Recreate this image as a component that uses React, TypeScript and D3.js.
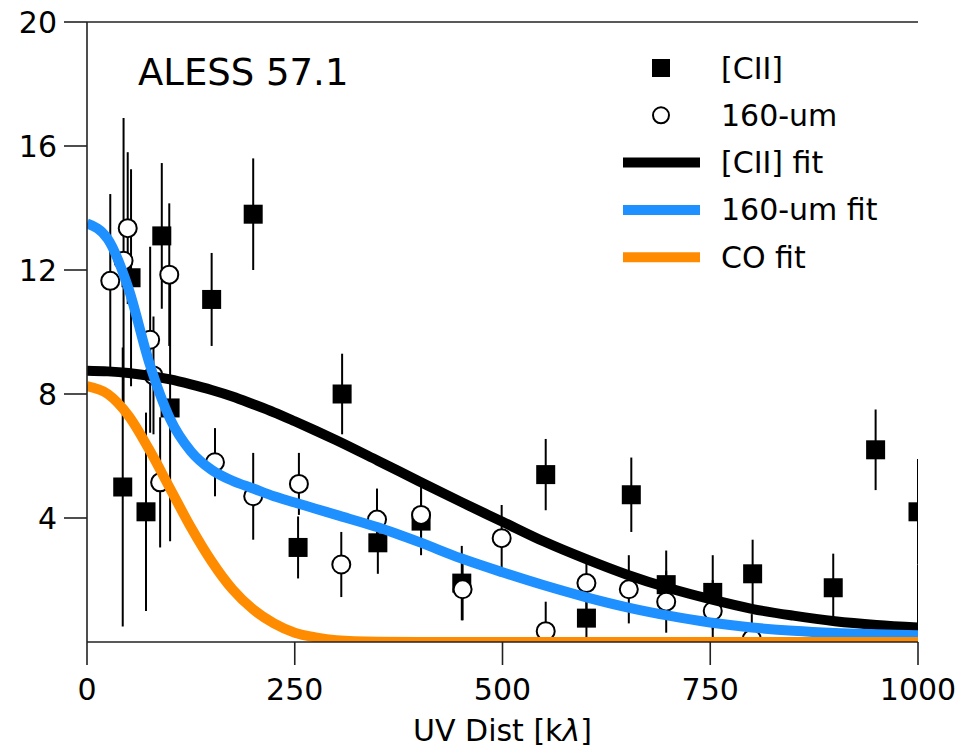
import React from "react";
import * as d3 from "d3";

// [CII] data: uv distance (kλ), amplitude, error
const ciiX = [43, 53, 71, 90, 100, 150, 200, 254, 307, 350, 402, 451, 552, 601, 655, 697, 753, 801, 898, 949, 1000];
const ciiY = [5.0, 11.75, 4.2, 13.1, 7.55, 11.05, 13.8, 3.05, 8.0, 3.2, 3.9, 1.9, 5.4, 0.77, 4.75, 1.85, 1.6, 2.2, 1.75, 6.2, 4.2];
const ciiErr = [4.5, 3.5, 3.2, 2.35, 4.3, 1.5, 1.8, 1.0, 1.3, 1.0, 1.1, 1.2, 1.15, 0.9, 1.2, 1.1, 1.2, 1.1, 1.1, 1.3, 1.7];

// 160-um data
const dustX = [28, 44, 49, 76, 80, 88, 99, 154, 200, 255, 306, 349, 402, 452, 499, 552, 601, 652, 697, 753, 800, 1000];
const dustY = [11.65, 12.3, 13.35, 9.75, 8.6, 5.15, 11.85, 5.8, 4.7, 5.1, 2.5, 3.95, 4.1, 1.7, 3.35, 0.35, 1.9, 1.7, 1.3, 1.0, 0.1, 0.0];
const dustErr = [2.8, 4.6, 2.45, 3.0, 1.9, 2.1, 2.3, 1.1, 1.4, 1.0, 1.05, 1.0, 0.8, 1.0, 1.07, 0.95, 0.9, 1.1, 1.0, 1.0, 0.8, 2.5];

// fit curves
const fitX = [0, 25, 50, 75, 100, 125, 150, 175, 200, 225, 250, 275, 300, 350, 400, 450, 500, 550, 600, 650, 700, 750, 800, 850, 900, 950, 1000];
const ciiFit = [8.75, 8.73, 8.68, 8.59, 8.47, 8.31, 8.13, 7.92, 7.67, 7.41, 7.12, 6.82, 6.51, 5.85, 5.18, 4.52, 3.88, 3.24, 2.68, 2.17, 1.74, 1.38, 1.07, 0.85, 0.67, 0.55, 0.47];
const dustFit = [13.5, 13.0, 11.4, 9.0, 7.2, 6.15, 5.55, 5.2, 4.95, 4.7, 4.5, 4.3, 4.1, 3.7, 3.22, 2.7, 2.25, 1.83, 1.45, 1.12, 0.85, 0.63, 0.47, 0.36, 0.29, 0.25, 0.22];
const coFit = [8.25, 8.0, 7.3, 6.2, 4.95, 3.7, 2.6, 1.7, 1.05, 0.6, 0.3, 0.15, 0.06, 0.01, 0, 0, 0, 0, 0, 0, 0, 0, 0, 0, 0, 0, 0];

const xTicks = [0, 250, 500, 750, 1000];
const yTicks = [4, 8, 12, 16, 20];

const legendLabels = ["[CII]", "160-um", "[CII] fit", "160-um fit", "CO fit"];
const fitColors = ["#000000", "#1e90ff", "#ff8c00"];

export default function App() {
  const W = 965, H = 750;
  const L = 87, R = 918, T = 22, B = 642;
  const x = d3.scaleLinear().domain([0, 1000]).range([L, R]);
  const y = d3.scaleLinear().domain([0, 20]).range([B, T]);
  const font = "DejaVu Sans, sans-serif";

  const line = d3
    .line<[number, number]>()
    .x((d) => x(d[0]))
    .y((d) => y(d[1]))
    .curve(d3.curveMonotoneX);

  const fits = [ciiFit, dustFit, coFit];
  const sq = 19;
  const rc = 9;

  const legRow = (i: number) => 68 + i * 47.3;

  return (
    <svg width={W} height={H} style={{ position: "absolute", left: 0, top: 0, background: "#fff" }} fontFamily={font}>
      <defs>
        <clipPath id="plotclip">
          <rect x={L} y={T} width={R - L} height={B - T} />
        </clipPath>
      </defs>
      <rect x={0} y={0} width={W} height={H} fill="#fff" />
      <g clipPath="url(#plotclip)">
        {/* error bars */}
        {ciiX.map((v, i) => (
          <line key={"ce" + i} x1={x(v)} x2={x(v)} y1={y(ciiY[i] - ciiErr[i])} y2={y(ciiY[i] + ciiErr[i])} stroke="#000" strokeWidth={2} />
        ))}
        {dustX.map((v, i) => (
          <line key={"de" + i} x1={x(v)} x2={x(v)} y1={y(dustY[i] - dustErr[i])} y2={y(dustY[i] + dustErr[i])} stroke="#000" strokeWidth={2} />
        ))}
        {ciiX.map((v, i) => (
          <rect key={"cs" + i} x={x(v) - sq / 2} y={y(ciiY[i]) - sq / 2} width={sq} height={sq} fill="#000" />
        ))}
        {dustX.map((v, i) => (
          <circle key={"dc" + i} cx={x(v)} cy={y(dustY[i])} r={rc} fill="#fff" stroke="#000" strokeWidth={2} />
        ))}
        {fits.map((f, k) => (
          <path
            key={"f" + k}
            d={line(fitX.map((v, i) => [v, f[i]] as [number, number])) || ""}
            fill="none"
            stroke={fitColors[k]}
            strokeWidth={10}
          />
        ))}
      </g>
      {/* frame: left, bottom, top */}
      <line x1={L} x2={L} y1={T} y2={B} stroke="#222" strokeWidth={1.6} />
      <line x1={L} x2={R} y1={B} y2={B} stroke="#222" strokeWidth={1.6} />
      <line x1={L} x2={R} y1={T} y2={T} stroke="#222" strokeWidth={1.6} />
      {/* y ticks */}
      {yTicks.map((t) => (
        <g key={"yt" + t}>
          <line x1={L - 23} x2={L} y1={y(t)} y2={y(t)} stroke="#222" strokeWidth={1.6} />
          <text x={L - 30} y={y(t)} textAnchor="end" dominantBaseline="central" fontSize={30} fill="#000">
            {t}
          </text>
        </g>
      ))}
      {/* x ticks */}
      {xTicks.map((t) => (
        <g key={"xt" + t}>
          <line x1={x(t)} x2={x(t)} y1={B} y2={B + 23} stroke="#222" strokeWidth={1.6} />
          <text x={x(t)} y={B + 47} textAnchor="middle" dominantBaseline="central" fontSize={30} fill="#000">
            {t}
          </text>
        </g>
      ))}
      <text x={(L + R) / 2} y={730} textAnchor="middle" dominantBaseline="central" fontSize={30} fill="#000">
        UV Dist [k<tspan fontStyle="italic">λ</tspan>]
      </text>
      <text x={138} y={85} fontSize={37} fill="#000">
        ALESS 57.1
      </text>
      {/* legend */}
      <rect x={661 - 9} y={legRow(0) - 9} width={18} height={18} fill="#000" />
      <circle cx={661} cy={legRow(1)} r={8} fill="#fff" stroke="#000" strokeWidth={2} />
      {fitColors.map((c, k) => (
        <line key={"ll" + k} x1={623} x2={700} y1={legRow(k + 2)} y2={legRow(k + 2)} stroke={c} strokeWidth={10} />
      ))}
      {legendLabels.map((s, i) => (
        <text key={"lt" + i} x={721} y={legRow(i)} dominantBaseline="central" fontSize={30} fill="#000">
          {s}
        </text>
      ))}
    </svg>
  );
}
